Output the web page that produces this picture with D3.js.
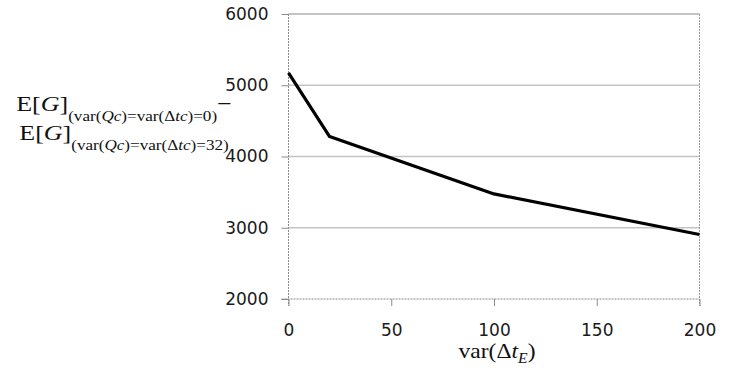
<!DOCTYPE html>
<html lang="en">
    <head>
        <meta charset="utf-8">
        <title>E[G] vs var(dtE)</title>
        <script src="https://cdn.jsdelivr.net/npm/d3@7/dist/d3.min.js"></script>
        <style>
            body { margin: 0; background: #fff; }
            .tick text { font-family: "DejaVu Sans", sans-serif; font-size: 17px; fill: #1a1a1a; }
            .serif { font-family: "Liberation Serif", "Times New Roman", serif; fill: #111; }
        </style>
    </head>
    <body>
        <svg id="chart" width="731" height="371"></svg>
        <script>
            // data
            var xValues = [0, 20, 100, 200]
            var yValues = [5175, 4280, 3475, 2905]
            var xTicks = [0, 50, 100, 150, 200]
            var yTicks = [2000, 3000, 4000, 5000, 6000]

            var svg = d3.select("#chart")
            // note: "top" is taken by window.top, so use other names
            var plotLeft = 288.5, plotRight = 699.5, plotTop = 14, plotBottom = 299

            var x = d3.scaleLinear().domain([0, 200]).range([plotLeft, plotRight])
            var y = d3.scaleLinear().domain([2000, 6000]).range([plotBottom, plotTop])

            // gridlines
            svg.append("g")
                .selectAll("line")
                .data(yTicks.filter(function (d) { return d > 2000 && d < 6000 }))
                .enter().append("line")
                .attr("x1", plotLeft).attr("x2", plotRight)
                .attr("y1", function (d) { return y(d) }).attr("y2", function (d) { return y(d) })
                .attr("stroke", "#c4c4c4").attr("stroke-width", 1.3)

            // plot border top + right
            svg.append("line")
                .attr("x1", plotLeft).attr("x2", plotRight).attr("y1", y(6000)).attr("y2", y(6000))
                .attr("stroke", "#8a8a8a").attr("stroke-width", 1.2)
            svg.append("line")
                .attr("x1", plotRight).attr("x2", plotRight).attr("y1", y(6000)).attr("y2", plotBottom + 7)
                .attr("stroke", "#999").attr("stroke-dasharray", "2,1")

            // axes
            var yAxis = svg.append("g")
                .attr("transform", "translate(" + plotLeft + ",0)")
                .call(d3.axisLeft(y).tickValues(yTicks).tickSize(7).tickPadding(13).tickFormat(d3.format("d")))
            var xAxis = svg.append("g")
                .attr("transform", "translate(0," + plotBottom + ")")
                .call(d3.axisBottom(x).tickValues(xTicks).tickSize(7).tickPadding(18).tickSizeOuter(0).tickFormat(d3.format("d")))

            yAxis.select(".domain").attr("d", "M0," + plotTop + "V" + (plotBottom + 7))
            xAxis.select(".domain").attr("d", "M" + (plotLeft - 7) + ",0H" + plotRight)
            svg.selectAll(".domain").attr("stroke", "#8a8a8a").attr("stroke-dasharray", "2,1")
            svg.selectAll(".tick line").attr("stroke", "#8a8a8a")

            // the series
            var line = d3.line()
                .x(function (d, i) { return x(xValues[i]) })
                .y(function (d) { return y(d) })
            svg.append("path")
                .datum(yValues)
                .attr("d", line)
                .attr("fill", "none")
                .attr("stroke", "#000")
                .attr("stroke-width", 3.2)
                .attr("stroke-linejoin", "round")

            // y axis title (two lines, stretched like the original)
            var big = 22, small = 14.5
            var yTitle = svg.append("g")
                .attr("class", "serif")
                .attr("transform", "translate(124,0) scale(1.18,1)")

            function subscriptParts(t, last) {
                t.append("tspan").attr("font-size", small).attr("dy", 10).text("(var(")
                t.append("tspan").attr("font-size", small).attr("font-style", "italic").text("Qc")
                t.append("tspan").attr("font-size", small).text(")=var(\u0394")
                t.append("tspan").attr("font-size", small).attr("font-style", "italic").text("tc")
                t.append("tspan").attr("font-size", small).text(")=" + last + ")")
            }

            var l1 = yTitle.append("text").attr("x", 0).attr("y", 111).attr("text-anchor", "middle").attr("font-size", big)
            l1.append("tspan").text("E[")
            l1.append("tspan").attr("font-style", "italic").text("G")
            l1.append("tspan").text("]")
            subscriptParts(l1, "0")
            l1.append("tspan").attr("dy", -10).attr("font-size", big).text("\u2212")

            var l2 = yTitle.append("text").attr("x", 0).attr("y", 140).attr("text-anchor", "middle").attr("font-size", big)
            l2.append("tspan").text("E[")
            l2.append("tspan").attr("font-style", "italic").text("G")
            l2.append("tspan").text("]")
            subscriptParts(l2, "32")

            // x axis title
            var xTitle = svg.append("g")
                .attr("class", "serif")
                .attr("transform", "translate(497,358) scale(1.12,1)")
            var xt = xTitle.append("text").attr("text-anchor", "middle").attr("font-size", 21)
            xt.append("tspan").text("var(\u0394")
            xt.append("tspan").attr("font-style", "italic").text("t")
            xt.append("tspan").attr("font-style", "italic").attr("font-size", 14).attr("dy", 5).text("E")
            xt.append("tspan").attr("dy", -5).text(")")
        </script>
    </body>
</html>
